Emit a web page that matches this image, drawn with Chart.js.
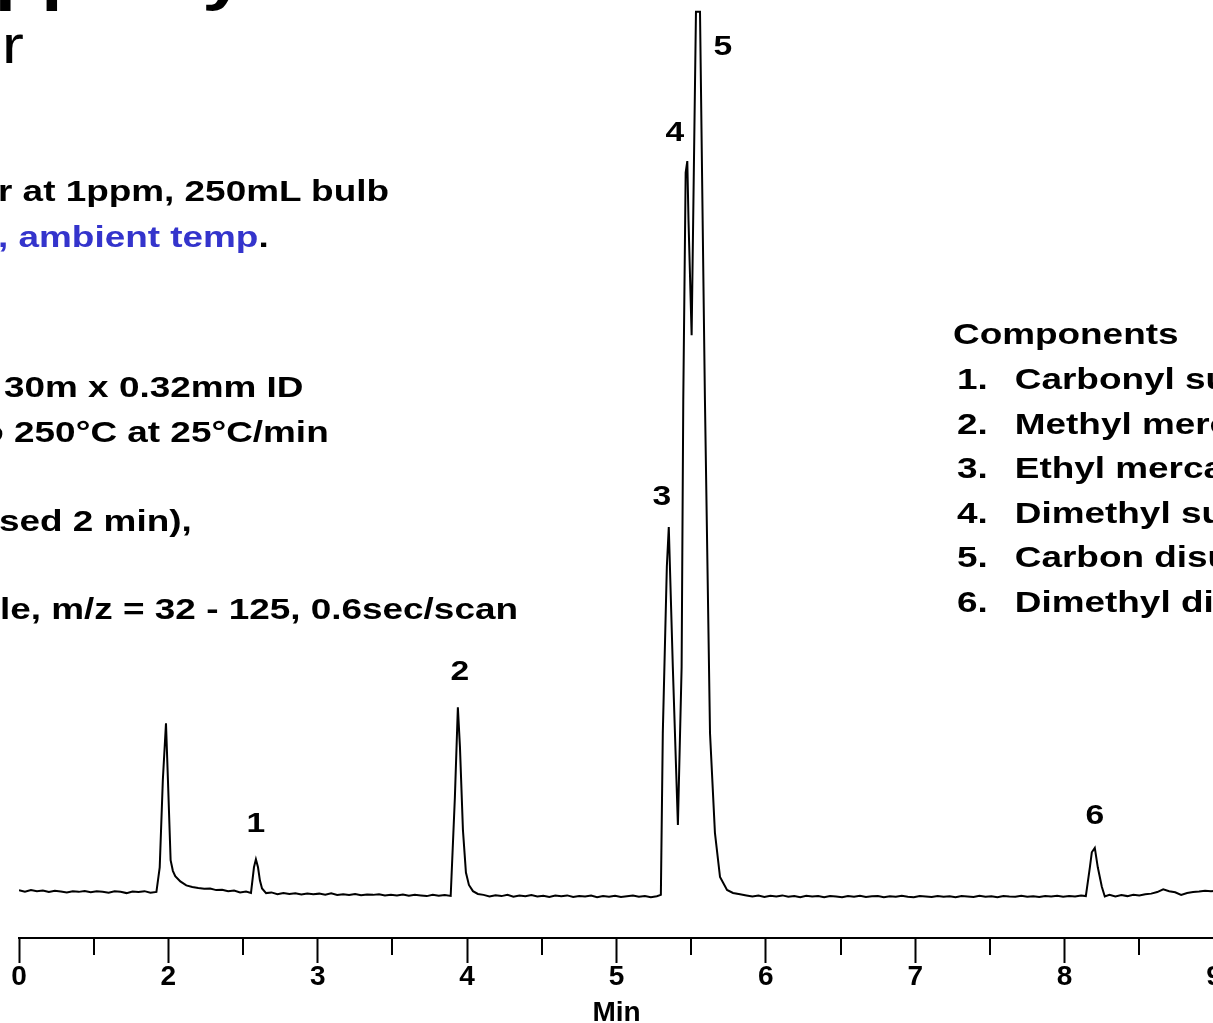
<!DOCTYPE html>
<html>
<head>
<meta charset="utf-8">
<title>Sulfur gases chromatogram</title>
<script src="https://cdn.jsdelivr.net/npm/chart.js@4/dist/chart.umd.min.js"></script>
<style>
  html, body { margin: 0; padding: 0; background: #fff; }
  body {
    width: 1213px; height: 1023px; overflow: hidden; position: relative;
    font-family: Arial, "Liberation Sans", sans-serif;
  }
  #chrom { position: absolute; left: 0; top: 0; }
  .txt {
    position: absolute; white-space: nowrap; color: #000;
    font-weight: bold; font-size: 30px; line-height: 30px;
    transform: scaleX(1.23); transform-origin: 0 0;
  }
  .title { font-size: 62px; line-height: 62px; }
  .subtitle { font-weight: normal; font-size: 54px; line-height: 54px; }
  .blue { color: #3434cc; }
  .num { display: inline-block; width: 47px; }
</style>
</head>
<body>
<canvas id="chrom" width="1300" height="1027"></canvas>

<div class="txt title" style="left:-586px; top:-54px;">Sulfur Gases at ppb by GC/MS</div>
<div class="txt subtitle" style="left:-323px; top:17px;">Air Sampler</div>

<div class="txt" style="left:-2px; top:176px;">r at 1ppm, 250mL bulb</div>
<div class="txt" style="left:-2px; top:222px;"><span class="blue">, ambient temp</span>.</div>
<div class="txt" style="left:4px; top:372px;">30m x 0.32mm ID</div>
<div class="txt" style="left:-31px; top:417px;">to 250°C at 25°C/min</div>
<div class="txt" style="left:-1px; top:506px;">sed 2 min),</div>
<div class="txt" style="left:0px; top:594px;">le, m/z = 32 - 125, 0.6sec/scan</div>

<div class="txt" style="left:953px; top:319px;">Components</div>
<div id="complist"></div>

<script>
// retention time (min), detector response (% of full scale)
const trace = [
  // baseline before the air peak
  [1.00,0.40],[1.04,0.24],[1.08,0.44],[1.12,0.30],[1.16,0.36],[1.20,0.20],[1.24,0.34],[1.28,0.26],
  [1.32,0.16],[1.36,0.30],[1.40,0.22],[1.44,0.32],[1.48,0.18],[1.52,0.28],[1.56,0.24],[1.60,0.12],
  [1.64,0.28],[1.68,0.22],[1.72,0.08],[1.76,0.26],[1.80,0.20],[1.84,0.30],[1.88,0.12],[1.92,0.22],
  // air / unretained peak with tail
  [1.942,3.0],[1.963,12.9],[1.984,19.3],[1.997,12.9],[2.015,3.8],[2.030,2.6],[2.046,2.0],[2.080,1.4],
  [2.12,0.95],[2.16,0.78],[2.20,0.66],[2.24,0.56],[2.28,0.60],[2.32,0.42],[2.36,0.46],[2.40,0.28],
  [2.44,0.36],[2.48,0.16],[2.52,0.26],[2.553,0.10],
  // peak 1
  [2.573,3.0],[2.586,3.9],[2.600,3.0],[2.613,1.5],[2.627,0.6],[2.654,0.08],
  [2.69,0.16],[2.73,-0.04],[2.77,0.10],[2.81,-0.02],[2.85,0.06],[2.89,-0.08],[2.93,0.04],[2.97,-0.06],
  [3.01,0.02],[3.05,-0.10],[3.09,0.05],[3.13,-0.12],[3.17,-0.04],[3.21,-0.14],[3.25,-0.02],[3.29,-0.16],
  [3.33,-0.08],[3.37,-0.12],[3.41,-0.04],[3.45,-0.20],[3.49,-0.10],[3.53,-0.18],[3.57,-0.08],[3.61,-0.22],
  [3.65,-0.12],[3.69,-0.18],[3.73,-0.26],[3.77,-0.12],[3.81,-0.22],[3.85,-0.14],[3.89,-0.24],
  // peak 2
  [3.918,10.9],[3.938,21.1],[3.952,16.6],[3.972,7.2],[3.992,2.4],[4.012,1.0],[4.039,0.3],[4.072,-0.02],
  [4.11,-0.12],[4.15,-0.30],[4.19,-0.16],[4.23,-0.26],[4.27,-0.12],[4.31,-0.32],[4.35,-0.20],[4.39,-0.28],
  [4.43,-0.14],[4.47,-0.30],[4.51,-0.22],[4.55,-0.36],[4.59,-0.20],[4.63,-0.28],[4.67,-0.18],[4.71,-0.36],
  [4.75,-0.24],[4.79,-0.30],[4.83,-0.20],[4.87,-0.38],[4.91,-0.26],[4.95,-0.32],[4.99,-0.22],[5.03,-0.36],
  [5.07,-0.28],[5.11,-0.20],[5.15,-0.34],[5.19,-0.24],[5.23,-0.38],[5.27,-0.28],[5.297,-0.12],
  // peaks 3, 4 and 5 (5 saturates the detector)
  [5.310,18.2],[5.337,37.0],[5.350,41.5],[5.377,25.7],[5.411,7.8],[5.436,25.7],[5.447,55.9],[5.463,81.6],
  [5.474,82.9],[5.482,76.2],[5.503,63.2],[5.532,99.8],[5.559,99.8],[5.592,55.9],[5.626,18.2],[5.659,6.9],
  [5.693,1.9],[5.740,0.43],[5.78,0.10],[5.827,-0.05],
  [5.87,-0.18],[5.91,-0.30],[5.95,-0.20],[5.99,-0.36],[6.03,-0.22],[6.07,-0.30],[6.11,-0.18],[6.15,-0.34],
  [6.19,-0.24],[6.23,-0.38],[6.27,-0.22],[6.31,-0.30],[6.35,-0.26],[6.39,-0.38],[6.43,-0.24],[6.47,-0.30],
  [6.51,-0.40],[6.55,-0.26],[6.59,-0.34],[6.63,-0.22],[6.67,-0.36],[6.71,-0.28],[6.75,-0.24],[6.79,-0.38],
  [6.83,-0.28],[6.87,-0.34],[6.91,-0.22],[6.95,-0.32],[6.99,-0.40],[7.03,-0.26],[7.07,-0.30],[7.11,-0.36],
  [7.15,-0.24],[7.19,-0.32],[7.23,-0.28],[7.27,-0.38],[7.31,-0.24],[7.35,-0.30],[7.39,-0.36],[7.43,-0.22],
  [7.47,-0.32],[7.51,-0.28],[7.55,-0.38],[7.59,-0.24],[7.63,-0.30],[7.67,-0.34],[7.71,-0.22],[7.75,-0.32],
  [7.79,-0.28],[7.83,-0.36],[7.87,-0.24],[7.91,-0.30],[7.95,-0.22],[7.99,-0.34],[8.03,-0.26],[8.07,-0.30],
  [8.11,-0.20],[8.142,-0.26],
  // peak 6
  [8.169,3.0],[8.182,4.7],[8.202,5.2],[8.222,3.0],[8.249,0.8],[8.269,-0.30],
  [8.30,-0.12],[8.34,-0.30],[8.38,-0.14],[8.42,-0.26],[8.46,-0.10],[8.50,-0.20],[8.54,-0.06],[8.58,0.02],
  [8.62,0.20],[8.66,0.50],[8.70,0.30],[8.74,0.18],[8.78,-0.12],[8.82,0.10],[8.86,0.20],[8.90,0.26],
  [8.94,0.34],[8.98,0.28],[9.00,0.32]
];

const tickValues = [1, 2, 3, 4, 5, 6, 7, 8, 9];
const tickLabels = ['0', '2', '3', '4', '5', '6', '7', '8', '9'];
const minorTicks = [1.5, 2.5, 3.5, 4.5, 5.5, 6.5, 7.5, 8.5];

// peak numbers and where their labels sit (min, response)
const peakIds = ['1', '2', '3', '4', '5', '6'];
const peakLabelTimes = [2.586, 3.952, 5.304, 5.391, 5.712, 8.202];
const peakLabelLevels = [7.9, 25.1, 44.9, 86.1, 95.8, 8.8];

const components = [
  'Carbonyl sulfide', 'Methyl mercaptan', 'Ethyl mercaptan',
  'Dimethyl sulfide', 'Carbon disulfide', 'Dimethyl disulfide'
];

const FONT = 'Arial, "Liberation Sans", sans-serif';

// component list on the right
const list = document.getElementById('complist');
components.forEach((name, i) => {
  const d = document.createElement('div');
  d.className = 'txt';
  d.style.left = '957px';
  d.style.top = (364 + i * 44.6) + 'px';
  d.innerHTML = '<span class="num">' + (i + 1) + '.</span>' + name;
  list.appendChild(d);
});

// short ticks halfway between the labelled ones
const minorTickPlugin = {
  id: 'minorTicks',
  afterDraw(chart) {
    const x = chart.scales.x;
    const c = chart.ctx;
    c.save();
    c.strokeStyle = '#000';
    c.lineWidth = 2;
    minorTicks.forEach(v => {
      const px = Math.round(x.getPixelForValue(v));
      c.beginPath();
      c.moveTo(px, x.top);
      c.lineTo(px, x.top + 17);
      c.stroke();
    });
    c.restore();
  }
};

const peakLabelPlugin = {
  id: 'peakLabels',
  afterDatasetsDraw(chart) {
    const { ctx, scales: { x, y } } = chart;
    ctx.save();
    ctx.fillStyle = '#000';
    ctx.font = 'bold 28px ' + FONT;
    ctx.textAlign = 'center';
    ctx.textBaseline = 'middle';
    peakIds.forEach((id, i) => {
      ctx.save();
      ctx.translate(x.getPixelForValue(peakLabelTimes[i]), y.getPixelForValue(peakLabelLevels[i]));
      ctx.scale(1.2, 1);
      ctx.fillText(id, 0, 0);
      ctx.restore();
    });
    ctx.restore();
  }
};

new Chart(document.getElementById('chrom').getContext('2d'), {
  type: 'line',
  data: {
    datasets: [{
      data: trace.map(p => ({ x: p[0], y: p[1] })),
      borderColor: '#000',
      borderWidth: 2,
      pointRadius: 0,
      tension: 0,
      fill: false
    }]
  },
  options: {
    responsive: false,
    animation: false,
    devicePixelRatio: 1,
    layout: { padding: { left: 19, right: 86, top: 10, bottom: 0 } },
    plugins: { legend: { display: false }, tooltip: { enabled: false } },
    scales: {
      x: {
        type: 'linear',
        min: 1,
        max: 9,
        grid: { drawOnChartArea: false, drawTicks: true, tickLength: 25, tickWidth: 2, tickColor: '#000' },
        border: { display: true, color: '#000', width: 2 },
        ticks: {
          stepSize: 1,
          autoSkip: false,
          maxRotation: 0,
          padding: 0,
          color: '#000',
          font: { family: FONT, size: 28, weight: 'bold', lineHeight: 1 },
          callback: v => {
            const i = tickValues.indexOf(v);
            return i < 0 ? '' : tickLabels[i];
          }
        },
        title: {
          display: true,
          text: 'Min',
          color: '#000',
          font: { family: FONT, size: 28, weight: 'bold', lineHeight: 1 },
          padding: { top: 8, bottom: 0 }
        }
      },
      y: { display: false, min: -5, max: 100 }
    }
  },
  plugins: [minorTickPlugin, peakLabelPlugin]
});
</script>
</body>
</html>
